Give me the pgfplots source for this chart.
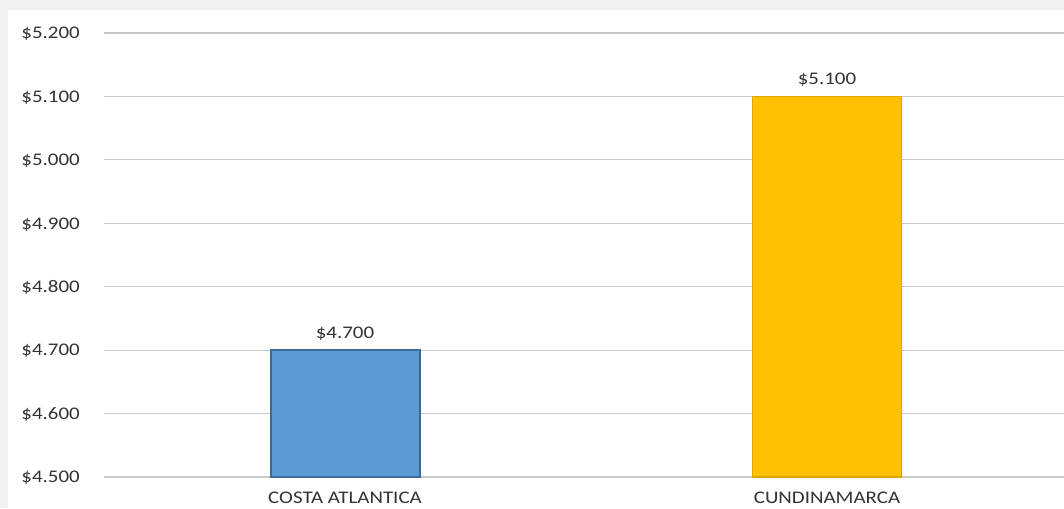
\documentclass[border=0pt]{standalone}
\usepackage{fontspec}
\setmainfont[FakeStretch=1.18]{Carlito}
\usepackage{pgfplots}
\pgfplotsset{compat=1.18}
\definecolor{gridc}{HTML}{C8C8C8}
\definecolor{txt}{HTML}{333333}
\definecolor{barblue}{HTML}{5B9BD5}
\definecolor{edgeblue}{HTML}{3A6A96}
\definecolor{baryel}{HTML}{FFC000}
\definecolor{edgeyel}{HTML}{DDA600}
\begin{document}
\begin{tikzpicture}
\useasboundingbox (0pt,0pt) rectangle (798pt,381pt);
\fill[black!6] (0pt,0pt) rectangle (798pt,381pt);
\fill[white] (6pt,0pt) rectangle (798pt,373.5pt);
\begin{axis}[
  at={(78pt,23.25pt)}, anchor=south west,
  scale only axis, width=720pt, height=333pt,
  xmin=-0.5, xmax=1.4917, ymin=4.5, ymax=5.2,
  axis line style={draw=none},
  ymajorgrids, grid style={gridc, line width=0.9pt},
  major tick length=0pt,
  ytick={4.5,4.6,4.7,4.8,4.9,5.0,5.1,5.2},
  yticklabels={\$4.500,\$4.600,\$4.700,\$4.800,\$4.900,\$5.000,\$5.100,\$5.200},
  xtick={0,1},
  xticklabels={COSTA ATLANTICA,CUNDINAMARCA},
  tick label style={font=\fontsize{13.3}{15}\selectfont, text=txt, inner sep=0pt},
  yticklabel style={anchor=base east, xshift=-18pt, yshift=-4.3pt},
  xticklabel style={anchor=base, yshift=-19.5pt},
  point meta=explicit symbolic,
  nodes near coords,
  nodes near coords style={font=\fontsize{13.3}{15}\selectfont, text=txt, anchor=base, inner sep=0pt, yshift=9pt},
  clip=false,
]
\addplot[ybar, bar width=111.75pt, bar shift=0pt, fill=barblue, draw=edgeblue, line width=1.5pt] coordinates {(0,4.7) [\$4.700]};
\addplot[ybar, bar width=111.75pt, bar shift=0pt, fill=baryel, draw=edgeyel, line width=1.2pt] coordinates {(1,5.1) [\$5.100]};
\end{axis}
\end{tikzpicture}
\end{document}
